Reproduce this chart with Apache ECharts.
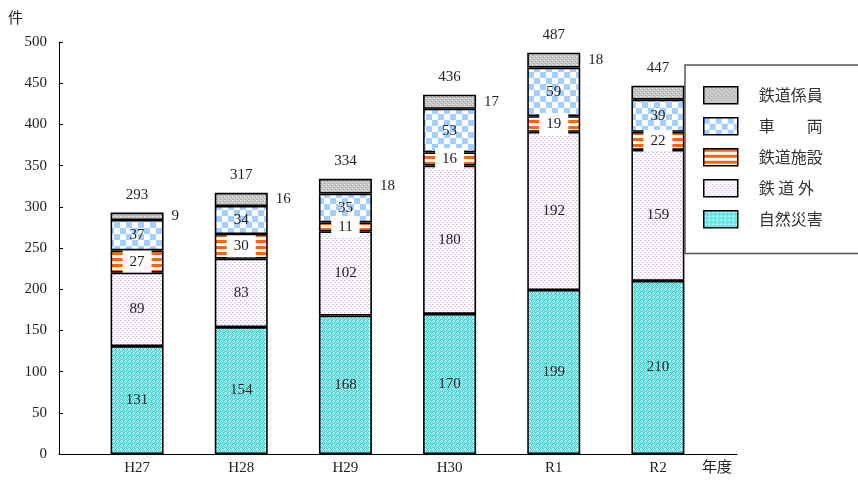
<!DOCTYPE html>
<html><head><meta charset="utf-8">
<script src="https://cdn.jsdelivr.net/npm/echarts@6/dist/echarts.min.js"></script>
<style>html,body{margin:0;padding:0;background:#fff}#c{width:858px;height:482px}</style>
</head><body><div id="c"></div>
<script>
const categories = ['H27','H28','H29','H30','R1','R2'];
const natural   = [131,154,168,170,199,210];   // 自然災害
const outside   = [89,83,102,180,192,159];     // 鉄道外
const facility  = [27,30,11,16,19,22];         // 鉄道施設
const vehicle   = [37,34,35,53,59,39];         // 車両
const staff     = [9,16,18,17,18,17];          // 鉄道係員
const totals    = [293,317,334,436,487,447];
const yTicks    = {min:0, max:500, interval:50};

function pat(w,h,draw){const c=document.createElement('canvas');c.width=w;c.height=h;const x=c.getContext('2d');draw(x);return {image:c,repeat:'repeat'};}
const pNatural = pat(4,4,x=>{x.fillStyle='#46e0e0';x.fillRect(0,0,4,4);x.fillStyle='#ffffff';
  x.fillRect(1,0,1,1);x.fillRect(0,1,1,1);x.fillRect(2,1,1,1);x.fillRect(1,2,1,1);x.fillStyle='#b8f4f4';x.fillRect(3,3,1,1);});
const pOutside = pat(4,4,x=>{x.fillStyle='#ffffff';x.fillRect(0,0,4,4);x.fillStyle='#cdaaf4';x.fillRect(0,0,1,1);x.fillRect(2,2,1,1);x.fillStyle='#e6d6fa';x.fillRect(1,0,1,1);x.fillRect(3,2,1,1);});
const pFacility = pat(6,6,x=>{x.fillStyle='#ffffff';x.fillRect(0,0,6,6);x.fillStyle='#ff6600';x.fillRect(0,0,6,3);});
const pVehicle = pat(12,12,x=>{x.fillStyle='#ffffff';x.fillRect(0,0,12,12);x.fillStyle='#a2cfff';x.fillRect(0,0,6,6);x.fillRect(6,6,6,6);});
const pStaff = pat(4,4,x=>{x.fillStyle='#c4c4c4';x.fillRect(0,0,4,4);x.fillStyle='#f0f0f0';x.fillRect(0,0,1,1);x.fillRect(2,2,1,1);x.fillStyle='#a8a8a8';x.fillRect(1,3,1,1);x.fillRect(3,1,1,1);});

const numFont = 'Liberation Serif';
const jpFont = 'Noto Sans CJK JP';
const border = {borderColor:'#000', borderWidth:1.6};
const inLabel = {show:true, position:'inside', fontFamily:numFont, fontSize:15, color:'#222'};

function seg(name, data, fill, label){
  return {name, type:'bar', stack:'a', xAxisIndex:1, yAxisIndex:1, barWidth:53, barGap:'-100%',
    data, itemStyle:Object.assign({color:fill}, border), label, emphasis:{disabled:true}};
}

const option = {
  animation:false,
  grid:[{left:59,right:121,top:42,bottom:28},{left:85,right:148,top:42,bottom:28}],
  xAxis:[
    {type:'value', gridIndex:0, min:0, max:1, axisLine:{show:true,lineStyle:{color:'#000',width:1}},
     axisTick:{show:false}, axisLabel:{show:false}, splitLine:{show:false},
     name:'年度', nameLocation:'end', nameGap:-5,
     nameTextStyle:{fontFamily:jpFont, fontSize:15, color:'#222', align:'right', verticalAlign:'top', padding:[5,0,0,0]}},
    {type:'category', gridIndex:1, data:categories, axisLine:{show:false}, axisTick:{show:false},
     axisLabel:{fontFamily:numFont, fontSize:15, color:'#222', margin:7}}
  ],
  yAxis:[
    {type:'value', gridIndex:0, min:yTicks.min, max:yTicks.max, interval:yTicks.interval,
     axisLine:{show:true,lineStyle:{color:'#000',width:1}}, axisTick:{show:true,inside:true,length:4,lineStyle:{color:'#000'}},
     splitLine:{show:false}, axisLabel:{fontFamily:numFont, fontSize:15, color:'#222', margin:12},
     name:'件', nameLocation:'end', nameGap:25,
     nameTextStyle:{fontFamily:jpFont, fontSize:15, color:'#222', align:'right', verticalAlign:'middle', padding:[0,36,0,0]}},
    {type:'value', gridIndex:1, min:yTicks.min, max:yTicks.max, show:false}
  ],
  legend:{
    orient:'vertical', left:685, top:65, backgroundColor:'#fff', borderColor:'#555', borderWidth:1.5,
    padding:[21,200,25,18], itemWidth:34, itemHeight:17, itemGap:12.5, z:10, icon:'rect',
    data:['鉄道係員','車両','鉄道施設','鉄道外','自然災害'],
    formatter: n => ({'鉄道係員':'鉄道係員','車両':'車　　両','鉄道施設':'鉄道施設','鉄道外':'鉄 道 外','自然災害':'自然災害'}[n]),
    textStyle:{fontFamily:jpFont, fontSize:16, color:'#333', padding:[0,0,0,16]},
    itemStyle:{borderColor:'#000', borderWidth:1.5}
  },
  series:[
    seg('自然災害', natural, pNatural, inLabel),
    seg('鉄道外', outside, pOutside, inLabel),
    seg('鉄道施設', facility, pFacility, Object.assign({}, inLabel, {backgroundColor:'#fff', padding:[4,7,3,7]})),
    seg('車両', vehicle, pVehicle, inLabel),
    seg('鉄道係員', staff, pStaff, Object.assign({}, inLabel, {position:'right', distance:8})),
    {name:'合計', type:'bar', xAxisIndex:1, yAxisIndex:1, barWidth:53, barGap:'-100%', z:1,
     data:totals, itemStyle:{color:'rgba(0,0,0,0)'}, silent:true,
     label:{show:true, position:'top', distance:10, fontFamily:numFont, fontSize:15, color:'#222'}}
  ]
};
echarts.init(document.getElementById('c')).setOption(option);
</script></body></html>
